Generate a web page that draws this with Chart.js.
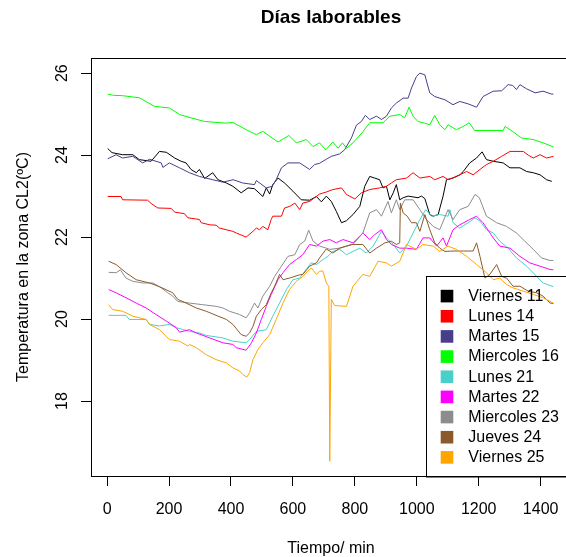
<!DOCTYPE html>
<html>
<head>
<meta charset="utf-8">
<script src="https://cdn.jsdelivr.net/npm/chart.js@4"></script>
<style>
  html, body { margin: 0; padding: 0; background: #fff; overflow: hidden; }
  #wrap { width: 580px; height: 557px; }
</style>
</head>
<body>
<div id="wrap"><canvas id="tempChart"></canvas></div>
<script>
const xTicks = [0, 200, 400, 600, 800, 1000, 1200, 1400];
const yTicks = [18, 20, 22, 24, 26];

const dayLabels = ['Viernes 11', 'Lunes 14', 'Martes 15', 'Miercoles 16', 'Lunes 21',
                   'Martes 22', 'Miercoles 23', 'Jueves 24', 'Viernes 25'];
const dayColors = ['#000000', '#FF0000', '#483D8B', '#00FF00', '#48D1CC',
                   '#FF00FF', '#8C8C8C', '#8B5A2B', '#FFA500'];

// [minuto, temperatura]
const viernes11 = [[2,24.16],[16,24.06],[50,24.01],[83,24.01],[104,23.89],[142,23.85],[169,24.09],[191,24.07],
  [218,23.93],[239,23.85],[255,23.81],[271,23.65],[288,23.57],[298,23.65],[315,23.43],[341,23.57],[358,23.40],
  [385,23.32],[406,23.24],[433,23.08],[455,23.20],[476,23.18],[503,22.99],[514,23.20],[525,23.05],[535,23.28],
  [552,23.44],[573,23.32],[600,23.12],[627,22.91],[654,22.90],[676,22.99],[692,22.86],[708,23.00],[724,22.87],
  [740,22.63],[757,22.35],[773,22.40],[794,22.55],[816,22.75],[832,23.24],[848,23.48],[864,23.44],[880,23.40],
  [891,23.20],[902,23.24],[913,22.91],[924,23.08],[934,23.28],[945,22.91],[956,22.96],[972,23.00],[1004,22.96],
  [1015,23.00],[1026,22.94],[1042,22.55],[1053,22.51],[1069,22.55],[1085,23.00],[1096,23.40],[1117,23.44],
  [1139,23.52],[1150,23.60],[1171,23.81],[1193,23.93],[1211,24.08],[1225,23.89],[1247,23.85],[1279,23.81],
  [1301,23.69],[1333,23.69],[1355,23.60],[1376,23.57],[1398,23.52],[1419,23.40],[1436,23.36]];

const lunes14 = [[2,22.99],[45,22.99],[50,22.91],[131,22.90],[142,22.82],[164,22.71],[207,22.70],[218,22.61],
  [250,22.57],[261,22.47],[298,22.43],[304,22.35],[331,22.30],[352,22.29],[363,22.22],[406,22.14],[417,22.10],
  [449,22.00],[471,22.14],[482,22.22],[492,22.18],[503,22.26],[519,22.18],[530,22.43],[535,22.51],[563,22.51],
  [573,22.71],[590,22.75],[606,22.83],[622,22.67],[632,22.83],[654,22.87],[686,23.05],[708,23.10],[729,23.16],
  [757,23.20],[773,23.04],[800,22.93],[821,23.08],[848,23.16],[880,23.20],[902,23.24],[918,23.32],[934,23.40],
  [967,23.44],[988,23.57],[1010,23.44],[1042,23.48],[1058,23.40],[1085,23.48],[1101,23.40],[1128,23.48],
  [1161,23.60],[1182,23.52],[1204,23.65],[1225,23.77],[1247,23.85],[1274,23.97],[1301,24.09],[1344,24.09],
  [1360,24.00],[1376,23.93],[1398,24.01],[1419,23.93],[1441,23.97]];

const martes15 = [[2,23.91],[29,24.01],[50,23.93],[83,23.97],[115,23.81],[137,23.90],[175,23.81],[180,23.70],
  [201,23.81],[234,23.69],[266,23.57],[298,23.48],[341,23.40],[374,23.34],[407,23.40],[438,23.32],[476,23.28],
  [482,23.38],[514,23.20],[533,23.24],[546,23.40],[563,23.69],[584,23.81],[622,23.81],[654,23.65],[670,23.77],
  [686,23.80],[708,23.90],[724,23.97],[751,24.03],[767,24.13],[789,24.42],[805,24.73],[821,24.82],[834,24.97],
  [848,24.87],[870,24.95],[886,24.87],[902,24.95],[918,25.15],[934,25.27],[956,25.39],[972,25.39],[983,25.64],
  [999,25.92],[1010,26.00],[1026,25.96],[1033,25.76],[1042,25.52],[1058,25.43],[1091,25.35],[1117,25.23],
  [1139,25.31],[1166,25.25],[1193,25.17],[1214,25.43],[1247,25.56],[1274,25.57],[1295,25.72],[1310,25.70],
  [1322,25.60],[1333,25.72],[1354,25.62],[1382,25.52],[1408,25.56],[1435,25.49],[1441,25.49]];

const miercoles16 = [[2,25.49],[20,25.46],[50,25.45],[104,25.40],[153,25.19],[201,25.15],[234,24.99],
  [271,24.91],[315,24.82],[385,24.78],[406,24.80],[449,24.62],[482,24.50],[503,24.58],[552,24.32],[587,24.48],
  [611,24.30],[643,24.38],[665,24.21],[686,24.30],[706,24.13],[729,24.32],[746,24.17],[760,24.30],[773,24.17],
  [794,24.30],[826,24.57],[848,24.79],[891,24.79],[913,24.95],[945,24.99],[961,24.91],[975,25.17],[988,24.95],
  [1004,24.82],[1026,24.78],[1042,24.74],[1058,24.97],[1074,24.74],[1091,24.62],[1101,24.74],[1128,24.62],
  [1150,24.70],[1169,24.79],[1187,24.60],[1279,24.60],[1285,24.70],[1311,24.57],[1338,24.42],[1376,24.38],
  [1408,24.30],[1441,24.20]];

const lunes21 = [[5,20.09],[61,20.09],[72,19.99],[126,19.99],[137,19.87],[169,19.83],[201,19.87],[223,19.79],
  [266,19.70],[298,19.66],[320,19.60],[374,19.54],[406,19.46],[449,19.42],[460,19.50],[482,19.70],[514,19.74],
  [535,20.07],[557,20.39],[579,20.72],[600,20.96],[622,21.00],[643,21.21],[659,21.37],[676,21.33],[697,21.45],
  [713,21.53],[729,21.65],[751,21.70],[773,21.57],[794,21.65],[816,21.73],[837,21.61],[859,21.78],[886,22.14],
  [902,21.98],[924,21.82],[945,21.61],[967,21.78],[988,22.10],[1010,22.43],[1029,22.67],[1047,22.51],
  [1074,22.55],[1101,22.51],[1107,22.67],[1117,22.35],[1139,22.22],[1166,22.35],[1188,22.47],[1204,22.39],
  [1225,22.18],[1247,22.10],[1268,21.90],[1295,21.73],[1322,21.49],[1355,21.29],[1387,21.04],[1408,20.88],
  [1441,20.79]];

const martes22 = [[5,20.72],[29,20.64],[61,20.52],[94,20.39],[126,20.27],[158,20.11],[191,19.95],[223,19.79],
  [234,19.68],[266,19.74],[288,19.66],[331,19.54],[374,19.42],[406,19.38],[417,19.30],[449,19.24],[466,19.42],
  [482,19.66],[498,19.99],[514,20.31],[530,20.60],[552,20.96],[568,21.13],[589,21.33],[611,21.45],[632,21.57],
  [654,21.82],[676,21.78],[697,21.90],[719,21.94],[740,21.86],[762,21.94],[794,21.86],[826,22.10],[848,21.94],
  [864,22.06],[886,22.18],[902,21.94],[918,21.82],[945,21.73],[967,21.73],[999,21.70],[1020,21.98],[1042,21.98],
  [1064,21.78],[1085,21.98],[1096,21.78],[1117,22.18],[1139,22.30],[1171,22.43],[1193,22.51],[1214,22.35],
  [1247,21.98],[1268,21.78],[1301,21.73],[1333,21.53],[1365,21.37],[1398,21.29],[1430,21.21],[1441,21.20]];

const miercoles23 = [[5,21.14],[29,21.13],[43,21.20],[61,21.00],[83,20.92],[115,20.88],[148,20.88],[175,20.76],
  [196,20.64],[212,20.56],[228,20.43],[266,20.39],[309,20.35],[352,20.31],[374,20.27],[395,20.19],[428,20.11],
  [449,20.03],[460,20.15],[476,20.39],[487,20.27],[503,20.56],[525,20.80],[541,21.04],[563,21.29],[584,21.53],
  [606,21.57],[622,21.82],[638,21.90],[651,22.17],[665,21.90],[686,21.78],[708,21.73],[719,21.70],[751,21.73],
  [794,21.82],[826,22.10],[848,22.59],[870,22.67],[886,22.51],[907,22.87],[918,22.59],[934,22.91],[945,22.67],
  [961,22.91],[988,22.91],[1010,22.67],[1031,22.43],[1053,22.26],[1074,22.18],[1101,22.67],[1117,22.43],
  [1139,22.67],[1166,22.75],[1188,23.04],[1202,22.96],[1225,22.51],[1258,22.35],[1290,22.26],[1322,22.10],
  [1349,21.90],[1376,21.70],[1403,21.49],[1430,21.43],[1441,21.43]];

const jueves24 = [[5,21.41],[29,21.33],[61,21.13],[94,20.96],[137,20.88],[169,20.79],[212,20.64],[228,20.48],
  [255,20.39],[288,20.27],[320,20.19],[352,20.09],[385,19.99],[406,19.87],[433,19.62],[449,19.58],[460,19.66],
  [471,19.82],[482,20.07],[498,20.23],[514,20.35],[530,20.64],[541,20.80],[557,21.09],[568,20.96],[589,21.00],
  [622,21.08],[632,21.09],[654,21.29],[676,21.37],[686,21.49],[708,21.71],[729,21.61],[751,21.73],[789,21.82],
  [826,21.82],[848,21.61],[870,21.73],[897,21.86],[918,21.90],[934,21.82],[945,21.86],[947,22.83],[956,22.59],
  [969,22.51],[983,22.35],[999,22.35],[1010,22.14],[1026,22.55],[1042,22.18],[1058,21.86],[1074,21.73],
  [1091,21.65],[1117,21.66],[1150,21.66],[1182,21.66],[1193,21.86],[1204,21.53],[1220,21.00],[1236,21.09],
  [1258,21.33],[1274,21.04],[1290,21.00],[1311,20.80],[1333,20.80],[1360,20.68],[1387,20.64],[1408,20.56],
  [1430,20.39],[1441,20.38]];

const viernes25 = [[5,20.35],[18,20.23],[50,20.19],[83,20.07],[126,19.99],[137,19.87],[169,19.74],[201,19.50],
  [234,19.46],[261,19.34],[266,19.38],[288,19.30],[320,19.13],[352,19.01],[385,18.93],[406,18.81],[428,18.73],
  [438,18.65],[451,18.58],[460,18.69],[471,19.01],[487,19.26],[503,19.42],[525,19.62],[546,19.99],[568,20.39],
  [589,20.72],[611,20.92],[632,21.04],[659,21.25],[676,21.09],[686,21.17],[697,21.17],[708,20.88],[716,20.80],
  [719,16.53],[724,20.48],[735,20.33],[773,20.31],[794,20.80],[826,21.09],[848,21.04],[875,21.41],[902,21.37],
  [918,21.29],[945,21.41],[967,21.82],[999,21.70],[1020,21.82],[1053,21.78],[1074,21.65],[1101,21.78],
  [1128,21.70],[1161,21.53],[1193,21.33],[1225,21.13],[1247,20.96],[1268,21.00],[1290,20.84],[1311,20.76],
  [1344,20.68],[1376,20.60],[1408,20.52],[1441,20.39]];

const allDays = [viernes11, lunes14, martes15, miercoles16, lunes21, martes22, miercoles23, jueves24, viernes25];

const FONT = '"Liberation Sans", Arial, Helvetica, sans-serif';

// marco negro alrededor del área de trazado
const framePlugin = {
  id: 'frame',
  afterDatasetsDraw(chart) {
    const { ctx, chartArea: a } = chart;
    ctx.save();
    ctx.strokeStyle = '#000';
    ctx.lineWidth = 1;
    ctx.strokeRect(a.left + 0.5, a.top + 0.5, a.right - a.left, a.bottom - a.top);
    ctx.restore();
  }
};

// leyenda en la esquina inferior derecha, sin fondo
const boxLegend = {
  id: 'boxLegend',
  afterDatasetsDraw(chart) {
    const { ctx, chartArea: a } = chart;
    const w = 145.5, h = 200.5, rowH = 20.16;
    const left = a.right - w, top = a.bottom - h;
    ctx.save();
    ctx.strokeStyle = '#000';
    ctx.lineWidth = 1;
    ctx.strokeRect(Math.round(left) + 0.5, Math.round(top) + 0.5, w, h);
    ctx.font = '16px ' + FONT;
    ctx.textBaseline = 'middle';
    ctx.textAlign = 'left';
    chart.data.datasets.forEach((ds, i) => {
      const cy = top + 20.6 + i * rowH;
      ctx.fillStyle = ds.borderColor;
      ctx.fillRect(left + 15.2, cy - 6.3, 12.6, 12.6);
      ctx.fillStyle = '#000';
      ctx.fillText(ds.label, left + 42.8, cy + 0.5);
    });
    ctx.restore();
  }
};

new Chart(document.getElementById('tempChart'), {
  type: 'line',
  data: {
    datasets: allDays.map((pts, i) => ({
      label: dayLabels[i],
      data: pts.map(p => ({ x: p[0], y: p[1] })),
      borderColor: dayColors[i],
      backgroundColor: dayColors[i],
      borderWidth: 1,
      pointRadius: 0,
      tension: 0,
      fill: false,
      order: allDays.length - i
    }))
  },
  options: {
    responsive: true,
    maintainAspectRatio: false,
    animation: false,
    layout: { padding: { left: 0, right: 9, top: 0, bottom: 0 } },
    plugins: {
      legend: { display: false },
      tooltip: { enabled: false },
      title: {
        display: true,
        text: 'Días laborables',
        fullSize: false,
        color: '#000',
        font: { family: FONT, size: 19, weight: 'bold', lineHeight: 1.2 },
        padding: { top: 6, bottom: 29.2 }
      }
    },
    scales: {
      x: {
        type: 'linear',
        min: -52,
        max: 1498,
        afterBuildTicks: axis => { axis.ticks = xTicks.map(v => ({ value: v })); },
        afterFit: axis => { axis.height = 81; },
        grid: { drawOnChartArea: false, drawTicks: true, tickLength: 10, color: '#000', lineWidth: 1 },
        border: { display: false },
        ticks: {
          autoSkip: false, maxRotation: 0, padding: 14,
          callback: v => String(v),
          color: '#000', font: { family: FONT, size: 16 }
        },
        title: {
          display: true, text: 'Tiempo/ min', color: '#000',
          font: { family: FONT, size: 16, lineHeight: 1 },
          padding: { top: 0, bottom: 0.5 }
        }
      },
      y: {
        min: 16.17,
        max: 26.37,
        afterBuildTicks: axis => { axis.ticks = yTicks.map(v => ({ value: v })); },
        afterFit: axis => { axis.width = 91; },
        grid: { drawOnChartArea: false, drawTicks: true, tickLength: 10, color: '#000', lineWidth: 1 },
        border: { display: false },
        ticks: {
          minRotation: 90, maxRotation: 90, crossAlign: 'center', padding: 9.5,
          callback: v => String(v),
          color: '#000', font: { family: FONT, size: 16 }
        },
        title: {
          display: true, text: 'Temperatura en la zona CL2(ºC)', color: '#000',
          font: { family: FONT, size: 16, lineHeight: 1 },
          padding: { top: 15.5, bottom: 0 }
        }
      }
    }
  },
  plugins: [framePlugin, boxLegend]
});
</script>
</body>
</html>
